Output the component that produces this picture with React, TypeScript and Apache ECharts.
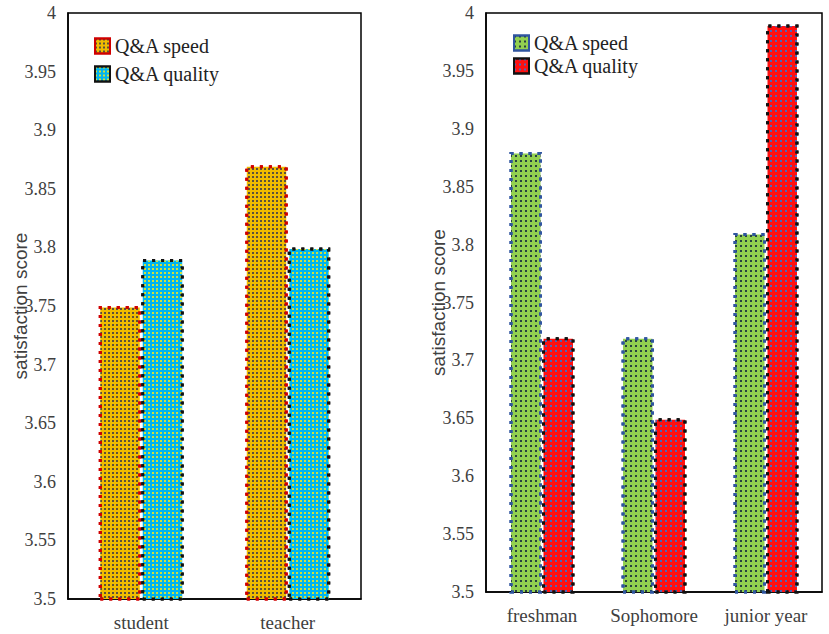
import React, { useEffect, useRef } from "react";
import * as echarts from "echarts";

const categoriesRole = ["student", "teacher"];
const speedRole = [3.75, 3.87];
const qualityRole = [3.79, 3.8];

const categoriesGrade = ["freshman", "Sophomore", "junior year"];
const speedGrade = [3.88, 3.72, 3.81];
const qualityGrade = [3.72, 3.65, 3.99];

const yMin = 3.5;
const yMax = 4;
const yStep = 0.05;

const axisName = "satisfaction score";
const seriesNames = ["Q&A speed", "Q&A quality"];

const SERIF = "'Liberation Serif', 'Times New Roman', serif";
const SANS = "'Liberation Sans', Arial, sans-serif";
const TXT = "#404040";

function decal(color: string, size: number, gap: number) {
  return {
    symbol: "rect",
    symbolSize: 1,
    color,
    dashArrayX: [size, gap],
    dashArrayY: [size, gap],
    rotation: 0,
  };
}

export default function App() {
  const ref = useRef<HTMLDivElement>(null);
  useEffect(() => {
    if (!ref.current) return;
    const chart = echarts.init(ref.current, null, { renderer: "svg" });
    const fmt = (v: number) => String(parseFloat(v.toFixed(2)));
    const yAxisBase = (gridIndex: number) => ({
      type: "value",
      gridIndex,
      min: yMin,
      max: yMax,
      interval: yStep,
      name: axisName,
      nameLocation: "middle",
      nameGap: 38,
      nameMoveOverlap: false,
      nameTextStyle: { fontFamily: SANS, fontSize: 19, color: TXT },
      axisLine: { show: true, lineStyle: { color: "#000", width: 1.5 } },
      axisTick: { show: false },
      splitLine: { show: false },
      axisLabel: { fontFamily: SERIF, fontSize: 18, color: TXT, margin: 12, formatter: fmt },
    });
    const xAxisBase = (gridIndex: number, data: string[]) => ({
      type: "category",
      gridIndex,
      data,
      axisLine: { show: true, lineStyle: { color: "#000", width: 1.5 } },
      axisTick: { show: false },
      axisLabel: { fontFamily: SERIF, fontSize: 19, color: TXT, margin: 14, interval: 0 },
    });
    const border = (color: string) => ({
      borderColor: color,
      borderWidth: 3,
      borderType: [3, 6],
      borderCap: "butt",
    });
    const legendBase = {
      orient: "vertical",
      itemWidth: 15,
      itemHeight: 15,
      icon: "rect",
      textStyle: { fontFamily: SERIF, fontSize: 20, color: "#222" },
      formatter: (n: string) => n.trim(),
    };
    chart.setOption({
      animation: false,
      backgroundColor: "#fff",
      grid: [
        { left: 68, top: 13, width: 293, height: 586, show: true, borderColor: "#000", borderWidth: 1.5, backgroundColor: "#fff" },
        { left: 486, top: 13, width: 336, height: 579, show: true, borderColor: "#000", borderWidth: 1.5, backgroundColor: "#fff" },
      ],
      xAxis: [xAxisBase(0, categoriesRole), xAxisBase(1, categoriesGrade)],
      yAxis: [yAxisBase(0), yAxisBase(1)],
      legend: [
        { ...legendBase, left: 89, top: 31, itemGap: 8, data: [seriesNames[0], seriesNames[1]] },
        { ...legendBase, left: 508, top: 28, itemGap: 3, data: [seriesNames[0] + " ", seriesNames[1] + " "] },
      ],
      series: [
        {
          type: "bar",
          name: seriesNames[0],
          xAxisIndex: 0,
          yAxisIndex: 0,
          data: speedRole,
          barWidth: "29%",
          barGap: "0%",
          itemStyle: { color: "#f0bc00", ...border("#d00000"), decal: decal("rgba(40,45,80,0.75)", 1.5, 1.5) },
        },
        {
          type: "bar",
          name: seriesNames[1],
          xAxisIndex: 0,
          yAxisIndex: 0,
          data: qualityRole,
          barWidth: "29%",
          barGap: "0%",
          itemStyle: { color: "#00b4f0", ...border("#111"), decal: decal("rgba(230,230,40,0.9)", 1.5, 1.5) },
        },
        {
          type: "bar",
          name: seriesNames[0] + " ",
          xAxisIndex: 1,
          yAxisIndex: 1,
          data: speedGrade,
          barWidth: "29%",
          barGap: "0%",
          itemStyle: { color: "#92d050", ...border("#2f55a0"), decal: decal("rgba(20,40,60,0.85)", 1.5, 3) },
        },
        {
          type: "bar",
          name: seriesNames[1] + " ",
          xAxisIndex: 1,
          yAxisIndex: 1,
          data: qualityGrade,
          barWidth: "29%",
          barGap: "0%",
          itemStyle: { color: "#ff1010", ...border("#111"), decal: decal("rgba(60,110,200,0.9)", 1.5, 3) },
        },
      ],
    });
    return () => chart.dispose();
  }, []);
  return (
    <div
      ref={ref}
      style={{ position: "absolute", left: 0, top: 0, width: 829, height: 634 }}
    />
  );
}
